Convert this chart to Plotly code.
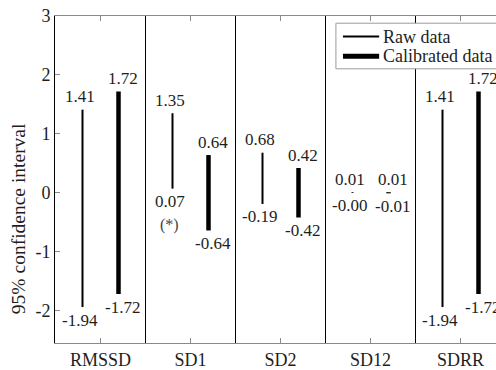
import plotly.graph_objects as go

# ---- data ----
categories = ["RMSSD", "SD1", "SD2", "SD12", "SDRR"]
raw_high = [1.41, 1.35, 0.68, 0.01, 1.41]
raw_low = [-1.94, 0.07, -0.19, -0.004, -1.94]
cal_high = [1.72, 0.64, 0.42, 0.01, 1.72]
cal_low = [-1.72, -0.64, -0.42, -0.01, -1.72]
notes = ["", "(*)", "", "", ""]
y_ticks = [-2, -1, 0, 1, 2, 3]
series_names = ["Raw data", "Calibrated data"]

FONT = "Liberation Serif, Times New Roman, serif"
TXT = "#1e1e1e"
GRAY = "#8a8a8a"
OFF = 0.2

W, H, ML, MR, MT, MB = 496, 370, 55, 0, 16, 24
pw, ph = W - ML - MR, H - MT - MB

pos = list(range(1, len(categories) + 1))

def seg(xs, lo, hi):
    X, Y = [], []
    for x, a, b in zip(xs, lo, hi):
        X += [x, x, None]
        Y += [a, b, None]
    return X, Y

fig = go.Figure()
xr, yr = seg([p - OFF for p in pos], raw_low, raw_high)
xc, yc = seg([p + OFF for p in pos], cal_low, cal_high)
fig.add_trace(go.Scatter(x=xr, y=yr, mode="lines", name=series_names[0],
                         line=dict(color="black", width=2), showlegend=False))
fig.add_trace(go.Scatter(x=xc, y=yc, mode="lines", name=series_names[1],
                         line=dict(color="black", width=4.5), showlegend=False))

ann = []
def lab(x, y, v, shift_x, up):
    ann.append(dict(x=x, y=y, xref="x", yref="y", text=f"{v:.2f}", showarrow=False,
                    xshift=shift_x, yshift=13 if up else -13, xanchor="center", yanchor="middle",
                    font=dict(family=FONT, size=17, color=TXT)))

for i, p in enumerate(pos):
    lab(p - OFF, raw_high[i], raw_high[i], -3, True)
    lab(p - OFF, raw_low[i], raw_low[i], -3, False)
    lab(p + OFF, cal_high[i], cal_high[i], 4, True)
    lab(p + OFF, cal_low[i], cal_low[i], 4, False)
    if notes[i]:
        ann.append(dict(x=p - OFF, y=raw_low[i], xref="x", yref="y", text=notes[i],
                        showarrow=False, xshift=-3, yshift=-36, xanchor="center", yanchor="middle",
                        font=dict(family=FONT, size=16, color="#444")))

shapes = []
for k in range(len(categories) - 1):
    shapes.append(dict(type="line", xref="x", yref="paper", x0=pos[k] + 0.5, x1=pos[k] + 0.5,
                       y0=0, y1=1, line=dict(color="black", width=1)))

# manual legend (partly outside the visible window like the reference)
shapes.append(dict(type="rect", xref="paper", yref="paper", x0=0.637, x1=1.06, y0=0.8385, y1=0.978,
                   fillcolor="white", line=dict(color="#9a9a9a", width=1), layer="above"))
for name, yy, w in [(series_names[0], 0.937, 2), (series_names[1], 0.877, 5)]:
    shapes.append(dict(type="line", xref="paper", yref="paper", x0=0.653, x1=0.735, y0=yy, y1=yy,
                       line=dict(color="black", width=w), layer="above"))
    ann.append(dict(x=0.7385, y=yy, xref="paper", yref="paper", text=name, showarrow=False,
                    xanchor="left", yanchor="middle", font=dict(family=FONT, size=18, color=TXT)))

# y-axis title
ann.append(dict(x=(18 - ML) / pw, y=(H - MB - 221) / ph, xref="paper", yref="paper",
                text="95% confidence interval", showarrow=False, textangle=-90,
                xanchor="center", yanchor="middle",
                font=dict(family=FONT, size=19.5, color=TXT)))

px = 0.5 / 90  # half-pixel so 1px lines render crisp
fig.update_layout(
    width=W, height=H, margin=dict(l=ML, r=MR, t=MT, b=MB),
    paper_bgcolor="white", plot_bgcolor="white",
    font=dict(family=FONT, size=17, color=TXT),
    shapes=shapes, annotations=ann, showlegend=False,
    xaxis=dict(range=[0.5 - px, 5.4 - px], tickvals=pos, ticktext=categories, showgrid=False,
               zeroline=False, showline=True, linecolor=GRAY, linewidth=1, mirror="ticks",
               ticks="inside", ticklen=5, tickcolor=GRAY,
               tickfont=dict(family=FONT, size=18, color=TXT)),
    yaxis=dict(range=[-2.55, 3.0], tickvals=y_ticks, ticktext=[str(v) for v in y_ticks],
               showgrid=False, zeroline=False,
               showline=True, linecolor="black", linewidth=1, mirror=False,
               ticks="inside", ticklen=5, tickcolor=GRAY,
               tickfont=dict(family=FONT, size=18, color=TXT)),
)

fig.write_html("out.html")
